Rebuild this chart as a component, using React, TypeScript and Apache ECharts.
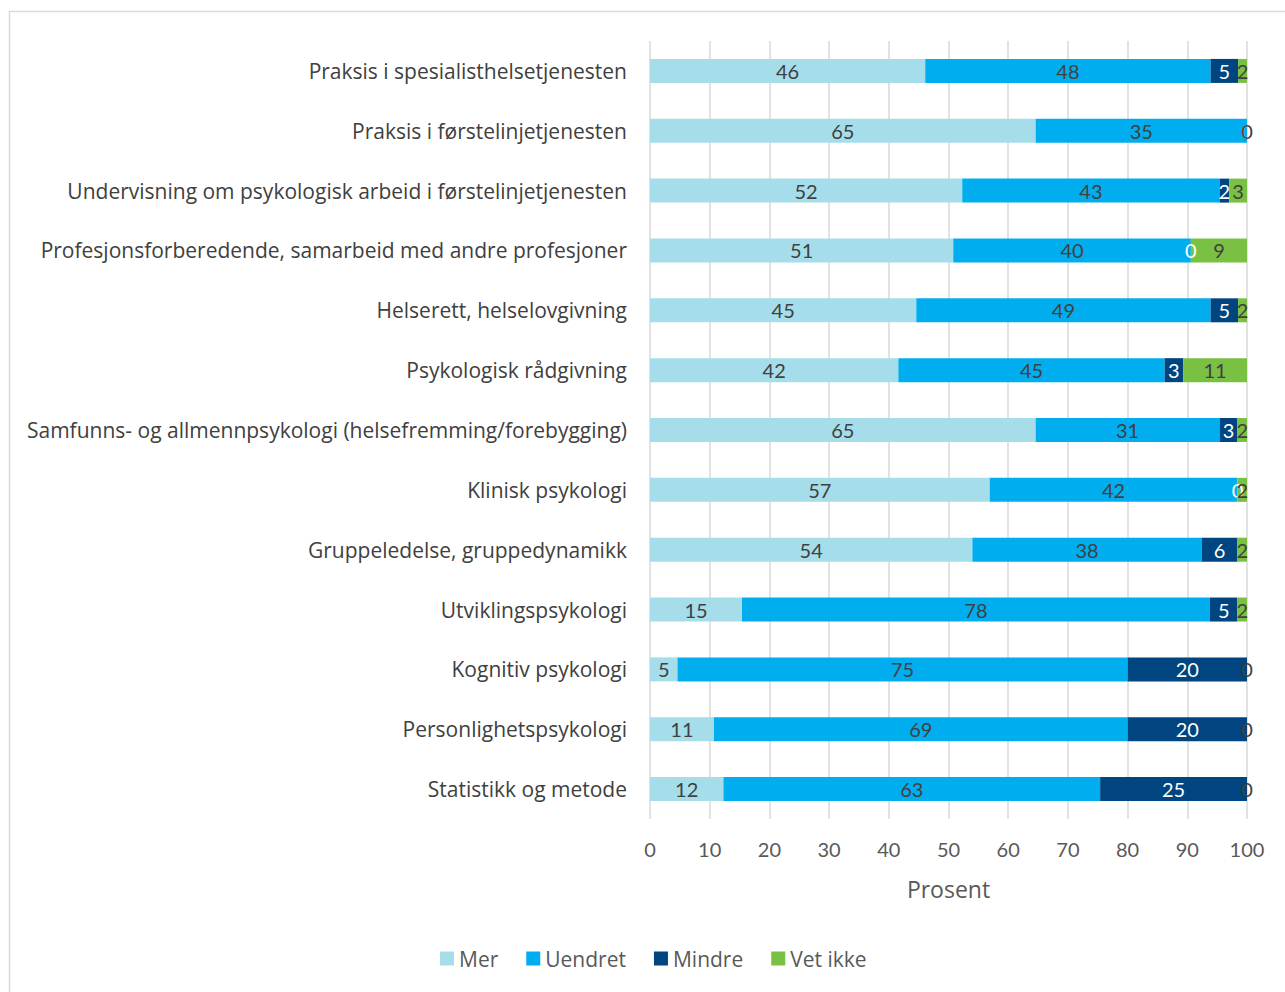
import React, { useEffect, useRef } from "react";
import * as echarts from "echarts";

const categories = [
  "Praksis i spesialisthelsetjenesten",
  "Praksis i førstelinjetjenesten",
  "Undervisning om psykologisk arbeid i førstelinjetjenesten",
  "Profesjonsforberedende, samarbeid med andre profesjoner",
  "Helserett, helselovgivning",
  "Psykologisk rådgivning",
  "Samfunns- og allmennpsykologi (helsefremming/forebygging)",
  "Klinisk psykologi",
  "Gruppeledelse, gruppedynamikk",
  "Utviklingspsykologi",
  "Kognitiv psykologi",
  "Personlighetspsykologi",
  "Statistikk og metode",
];

const mer = [46.1, 64.6, 52.3, 50.8, 44.6, 41.6, 64.6, 56.9, 54.0, 15.4, 4.6, 10.7, 12.3];
const uendret = [47.8, 35.4, 43.1, 39.8, 49.3, 44.6, 30.8, 41.5, 38.4, 78.4, 75.4, 69.3, 63.1];
const mindre = [4.6, 0, 1.6, 0, 4.6, 3.1, 3.0, 0, 6.0, 4.6, 20.0, 20.0, 24.6];
const vetIkke = [1.5, 0, 3.0, 9.4, 1.5, 10.7, 1.6, 1.6, 1.6, 1.6, 0, 0, 0];

const xTicks = [0, 10, 20, 30, 40, 50, 60, 70, 80, 90, 100];

const FONT = "Lato";
const TFONT = "Open Sans";

export default function App() {
  const ref = useRef<HTMLDivElement>(null);
  useEffect(() => {
    if (!ref.current) return;
    const chart = echarts.init(ref.current, undefined, { renderer: "svg" });
    const mkSeries = (name: string, data: number[], color: string, labelColor: string) => ({
      name,
      type: "bar",
      stack: "total",
      barWidth: 24,
      data,
      itemStyle: { color },
      label: {
        show: true,
        position: "inside",
        color: labelColor,
        fontSize: 20,
        fontFamily: FONT,
        formatter: (p: any) => String(Math.round(p.value)),
      },
    });
    chart.setOption({
      animation: false,
      textStyle: { fontFamily: FONT },
      graphic: [
        {
          type: "rect",
          shape: { x: 9.5, y: 11.5, width: 1300, height: 1000 },
          style: { fill: "none", stroke: "#D9D9D9", lineWidth: 1.5 },
          silent: true,
        },
      ],
      grid: { left: 650, right: 38, top: 41, bottom: 173, containLabel: false },
      legend: {
        left: 440,
        top: 948,
        padding: 0,
        itemWidth: 14,
        itemHeight: 14,
        itemGap: 28,
        icon: "rect",
        textStyle: { fontSize: 21, color: "#595959", fontFamily: TFONT },
        data: ["Mer", "Uendret", "Mindre", "Vet ikke"],
      },
      xAxis: {
        type: "value",
        min: xTicks[0],
        max: xTicks[xTicks.length - 1],
        interval: 10,
        axisLine: { show: false },
        axisTick: { show: false },
        splitLine: { show: true, lineStyle: { color: "#D9D9D9", width: 1.5 } },
        axisLabel: { fontSize: 20, color: "#595959", margin: 20, fontFamily: FONT },
        name: "Prosent",
        nameLocation: "middle",
        nameGap: 58,
        nameTextStyle: { fontSize: 23, color: "#595959", fontFamily: TFONT },
      },
      yAxis: {
        type: "category",
        inverse: true,
        data: categories,
        axisLine: { show: false },
        axisTick: { show: false },
        axisLabel: { fontSize: 21, color: "#404040", margin: 23, fontFamily: TFONT },
      },
      series: [
        mkSeries("Mer", mer, "#A5DEEA", "#404040"),
        mkSeries("Uendret", uendret, "#00AEEF", "#404040"),
        mkSeries("Mindre", mindre, "#00457F", "#FFFFFF"),
        mkSeries("Vet ikke", vetIkke, "#7AC143", "#404040"),
      ],
    });
    return () => chart.dispose();
  }, []);
  return (
    <div
      ref={ref}
      style={{ position: "fixed", left: 0, top: 0, width: 1285, height: 992, background: "#fff" }}
    />
  );
}
